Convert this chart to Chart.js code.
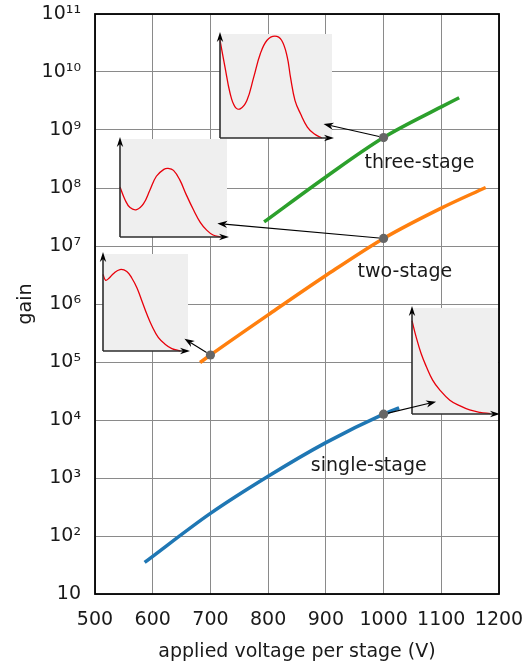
<!DOCTYPE html>
<html><head><meta charset="utf-8">
<script src="https://cdn.jsdelivr.net/npm/chart.js@4/dist/chart.umd.min.js"></script>
<style>
html,body{margin:0;padding:0;background:#fff;}
#wrap{position:relative;width:524px;height:664px;overflow:hidden;}
#wrap canvas{position:absolute;left:0;top:0;}
</style></head><body>
<div id="wrap"><canvas id="main" width="524" height="664"></canvas></div>
<script>
// ---- axis ticks ----
const xTicks = [500, 600, 700, 800, 900, 1000, 1100, 1200];
const yTickValues = [10, 1e2, 1e3, 1e4, 1e5, 1e6, 1e7, 1e8, 1e9, 1e10, 1e11];
const yTickLabels = ['10', '10²', '10³', '10⁴', '10⁵', '10⁶', '10⁷', '10⁸', '10⁹', '10¹⁰', '10¹¹'];

// ---- gain curves (voltage per stage in V, gain) ----
const singleVolts = [586, 700, 800, 900, 1000, 1027];
const singleGain  = [35, 245, 1070, 4070, 12600, 16200];
const twoVolts    = [682, 700, 800, 900, 1000, 1100, 1177];
const twoGain     = [9.8e4, 1.32e5, 6.5e5, 3.1e6, 1.35e7, 4.5e7, 1.02e8];
const threeVolts  = [793, 900, 1000, 1100, 1131];
const threeGain   = [2.6e7, 1.55e8, 7.4e8, 2.5e9, 3.6e9];

// ---- marked operating points ----
const opVolts = [1000, 700, 1000, 1000];
const opGain  = [12600, 1.32e5, 1.35e7, 7.4e8];

// ---- series labels ----
const seriesNames = ['single-stage', 'two-stage', 'three-stage'];

// ---- inset curves (normalised 0..1 within each inset) ----
const insetThreeX = [0, 0.045, 0.09, 0.134, 0.18, 0.24, 0.30, 0.36, 0.42, 0.49, 0.55, 0.60, 0.63, 0.67, 0.72, 0.78, 0.84, 0.91];
const insetThreeY = [0.94, 0.68, 0.43, 0.30, 0.28, 0.36, 0.58, 0.81, 0.94, 0.98, 0.94, 0.78, 0.58, 0.36, 0.23, 0.105, 0.04, 0.0];
const insetTwoX = [0, 0.047, 0.094, 0.156, 0.22, 0.28, 0.34, 0.41, 0.45, 0.50, 0.56, 0.62, 0.69, 0.75, 0.81, 0.87, 0.94];
const insetTwoY = [0.51, 0.38, 0.30, 0.28, 0.34, 0.48, 0.62, 0.69, 0.70, 0.68, 0.58, 0.43, 0.27, 0.15, 0.07, 0.02, 0.0];
const insetLowX = [0, 0.03, 0.07, 0.125, 0.20, 0.28, 0.34, 0.40, 0.46, 0.52, 0.58, 0.65, 0.73, 0.81, 0.91];
const insetLowY = [0.79, 0.73, 0.75, 0.80, 0.84, 0.82, 0.75, 0.65, 0.51, 0.37, 0.25, 0.14, 0.07, 0.025, 0];
const insetSingleX = [0, 0.047, 0.106, 0.165, 0.24, 0.32, 0.44, 0.56, 0.67, 0.79, 0.91];
const insetSingleY = [0.88, 0.73, 0.57, 0.45, 0.32, 0.23, 0.13, 0.076, 0.038, 0.016, 0.003];

// ---- layout (in chart data coordinates) ----
const labelAnchors = [ {v: 874, g: 1.6e3}, {v: 955, g: 3.6e6}, {v: 967, g: 2.7e8} ];
const insetLayout = [
  {v0: 1050, v1: 1198, gTop: 8.4e5, gBot: 1.27e4, xs: insetSingleX, ys: insetSingleY, tip: {v: 1091, g: 2.07e4}, op: 0},
  {v0: 513,  v1: 661,  gTop: 7.2e6, gBot: 1.57e5, xs: insetLowX,    ys: insetLowY,    tip: {v: 655, g: 2.52e5}, op: 1},
  {v0: 543,  v1: 728,  gTop: 6.9e8, gBot: 1.44e7, xs: insetTwoX,    ys: insetTwoY,    tip: {v: 712, g: 2.44e7}, op: 2},
  {v0: 717,  v1: 910,  gTop: 4.6e10, gBot: 7.4e8, xs: insetThreeX,  ys: insetThreeY,  tip: {v: 896, g: 1.27e9}, op: 3}
];

const FONT = 'DejaVu Sans';
const FS = 19;
const TXT = '#1a1a1a';
const pts = (xs, ys) => xs.map((x, i) => ({x: x, y: ys[i]}));

function drawArrow(ctx, x0, y0, x1, y1, len, half, lw, color) {
  const a = Math.atan2(y1 - y0, x1 - x0);
  ctx.save();
  ctx.strokeStyle = color; ctx.fillStyle = color; ctx.lineWidth = lw;
  ctx.beginPath(); ctx.moveTo(x0, y0);
  ctx.lineTo(x1 - Math.cos(a) * len * 0.7, y1 - Math.sin(a) * len * 0.7);
  ctx.stroke();
  ctx.translate(x1, y1); ctx.rotate(a);
  ctx.beginPath(); ctx.moveTo(0, 0); ctx.lineTo(-len, -half); ctx.lineTo(-len * 0.7, 0); ctx.lineTo(-len, half); ctx.closePath(); ctx.fill();
  ctx.restore();
}

const framePlugin = {
  id: 'frame',
  afterDatasetsDraw(chart) {
    const {ctx, scales} = chart;
    ctx.save();
    ctx.fillStyle = TXT; ctx.font = FS + 'px ' + FONT; ctx.textAlign = 'left'; ctx.textBaseline = 'middle';
    labelAnchors.forEach((p, i) => {
      ctx.fillText(seriesNames[i], scales.x.getPixelForValue(p.v), scales.y.getPixelForValue(p.g));
    });
    ctx.restore();
  },
  afterDraw(chart) {
    const {ctx, chartArea: a} = chart;
    ctx.save(); ctx.strokeStyle = '#000'; ctx.lineWidth = 1.8;
    ctx.strokeRect(a.left, a.top, a.right - a.left, a.bottom - a.top);
    ctx.restore();
  }
};

const lineStyle = {showLine: true, borderWidth: 3.5, pointRadius: 0, cubicInterpolationMode: 'monotone', borderCapStyle: 'butt', order: 1};

const main = new Chart(document.getElementById('main'), {
  type: 'scatter',
  data: {
    datasets: [
      Object.assign({data: pts(singleVolts, singleGain), borderColor: '#1f77b4'}, lineStyle),
      Object.assign({data: pts(twoVolts, twoGain), borderColor: '#ff7f0e'}, lineStyle),
      Object.assign({data: pts(threeVolts, threeGain), borderColor: '#2ca02c'}, lineStyle),
      {data: pts(opVolts, opGain), showLine: false, pointRadius: 4.6, pointBackgroundColor: '#666666', pointBorderColor: '#666666', pointBorderWidth: 0, order: 0}
    ]
  },
  options: {
    responsive: false, animation: false, events: [],
    layout: {padding: {top: 14, right: 25, left: 0, bottom: 0}},
    plugins: {legend: {display: false}, tooltip: {enabled: false}},
    scales: {
      x: {
        type: 'linear', min: 500, max: 1200,
        afterBuildTicks: s => { s.ticks = xTicks.map(v => ({value: v})); },
        afterFit: s => { s.height = 70; s.paddingLeft = 0; s.paddingRight = 0; },
        grid: {color: '#8a8a8a', lineWidth: 1, drawTicks: false},
        border: {display: false},
        ticks: {padding: 15, color: TXT, font: {family: FONT, size: FS}, maxRotation: 0, autoSkip: false,
                callback: (v, i) => String(xTicks[i])},
        title: {display: true, text: 'applied voltage per stage (V)', color: TXT, font: {family: FONT, size: FS}, padding: {top: 0, bottom: 1}}
      },
      y: {
        type: 'logarithmic', min: 10, max: 1e11,
        afterBuildTicks: s => { s.ticks = yTickValues.map(v => ({value: v})); },
        afterFit: s => { s.width = 95; s.paddingTop = 0; s.paddingBottom = 0; },
        grid: {color: '#8a8a8a', lineWidth: 1, drawTicks: false},
        border: {display: false},
        ticks: {padding: 14, color: TXT, font: {family: FONT, size: FS}, autoSkip: false,
                callback: (v, i) => yTickLabels[i]},
        title: {display: true, text: 'gain', color: TXT, font: {family: FONT, size: FS}, padding: {top: 15, bottom: 0}}
      }
    }
  },
  plugins: [framePlugin]
});

const wrap = document.getElementById('wrap');
const sx = main.scales.x, sy = main.scales.y;

const insetPlugin = {
  id: 'insetDeco',
  beforeDraw(chart) {
    const {ctx, chartArea: a} = chart;
    ctx.save(); ctx.fillStyle = '#efefef';
    ctx.fillRect(a.left, a.top, a.right - a.left, a.bottom - a.top);
    ctx.restore();
  },
  afterDraw(chart) {
    const {ctx, chartArea: a} = chart;
    ctx.save(); ctx.strokeStyle = '#333'; ctx.lineWidth = 1.6;
    ctx.beginPath(); ctx.moveTo(a.left, a.bottom); ctx.lineTo(a.left, a.top + 4); ctx.stroke();
    ctx.beginPath(); ctx.moveTo(a.left, a.bottom); ctx.lineTo(a.right - 4, a.bottom); ctx.stroke();
    ctx.restore();
    drawArrow(ctx, a.left, a.bottom, a.left, a.top - 2, 10, 3.2, 0.1, '#000');
    drawArrow(ctx, a.left, a.bottom, a.right + 2, a.bottom, 10, 3.2, 0.1, '#000');
  }
};

insetLayout.forEach(b => {
  const m = 6;
  const L = Math.round(sx.getPixelForValue(b.v0)), R = Math.round(sx.getPixelForValue(b.v1));
  const T = Math.round(sy.getPixelForValue(b.gTop)), B = Math.round(sy.getPixelForValue(b.gBot));
  const c = document.createElement('canvas');
  c.width = R - L + 2 * m; c.height = B - T + 2 * m;
  c.style.left = (L - m) + 'px'; c.style.top = (T - m) + 'px';
  wrap.appendChild(c);
  new Chart(c, {
    type: 'line',
    data: {datasets: [{data: pts(b.xs, b.ys), borderColor: '#e8000b', borderWidth: 1.3, pointRadius: 0, tension: 0.4, clip: false}]},
    options: {
      responsive: false, animation: false, events: [],
      layout: {padding: m},
      plugins: {legend: {display: false}, tooltip: {enabled: false}},
      scales: {x: {type: 'linear', min: 0, max: 1, display: false}, y: {type: 'linear', min: 0, max: 1, display: false}}
    },
    plugins: [insetPlugin]
  });
});

// arrows from operating points to insets (top layer)
const over = document.createElement('canvas');
over.width = 524; over.height = 664;
wrap.appendChild(over);
const octx = over.getContext('2d');
insetLayout.forEach(b => {
  const x0 = sx.getPixelForValue(opVolts[b.op]), y0 = sy.getPixelForValue(opGain[b.op]);
  const x1 = sx.getPixelForValue(b.tip.v), y1 = sy.getPixelForValue(b.tip.g);
  const a = Math.atan2(y1 - y0, x1 - x0);
  drawArrow(octx, x0 + Math.cos(a) * 4.6, y0 + Math.sin(a) * 4.6, x1, y1, 10, 3.6, 1.1, '#000');
});
</script>
</body></html>
